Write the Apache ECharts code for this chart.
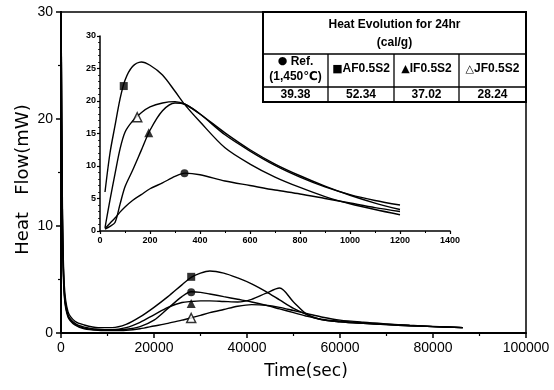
<!DOCTYPE html>
<html>
<head>
<meta charset="utf-8">
<script src="https://cdn.jsdelivr.net/npm/echarts@6/dist/echarts.min.js"></script>
<style>
  html, body { margin: 0; padding: 0; background: #fff; }
  #main { width: 554px; height: 390px; }
</style>
</head>
<body>
<div id="main"></div>
<script>
// 主图 时间(秒)
var mainTime = [0, 300, 700, 1500, 3000, 5000, 8000, 11000, 14000, 17000, 20000, 23000, 26000, 28000, 30000,
  32000, 35000, 38000, 41000, 44000, 47000, 50000, 53000, 56000, 60000, 65000, 70000, 75000, 80000, 86400];
var afMain  = [32, 12, 4.5, 2.0, 1.1, 0.75, 0.5, 0.5, 0.8, 1.5, 2.4, 3.4, 4.5, 5.2, 5.6,
  5.8, 5.6, 5.15, 4.6, 3.9, 3.1, 2.3, 1.7, 1.25, 1.05, 0.9, 0.78, 0.68, 0.6, 0.5];
var refMain = [32, 11, 4.0, 1.7, 0.9, 0.55, 0.35, 0.3, 0.35, 0.6, 1.2, 2.3, 3.4, 3.85, 3.8,
  3.65, 3.4, 3.15, 2.9, 2.6, 2.25, 1.9, 1.55, 1.3, 1.1, 0.95, 0.82, 0.7, 0.6, 0.5];
var ifMain  = [32, 11, 3.8, 1.6, 0.8, 0.45, 0.3, 0.3, 0.5, 1.0, 1.7, 2.4, 2.85, 2.95, 3.0,
  3.0, 2.95, 2.9, 3.15, 3.7, 4.2, 2.9, 1.7, 1.25, 1.05, 0.9, 0.78, 0.68, 0.6, 0.5];
var jfMain  = [32, 10, 3.5, 1.5, 0.75, 0.4, 0.25, 0.22, 0.25, 0.4, 0.65, 0.9, 1.2, 1.4, 1.65,
  1.9, 2.2, 2.5, 2.65, 2.6, 2.4, 2.1, 1.8, 1.5, 1.2, 1.0, 0.85, 0.72, 0.62, 0.5];

// 小图 时间(秒)
var insetTime = [20, 40, 60, 80, 100, 130, 165, 200, 250, 300, 340, 400, 500, 600, 700, 800, 900, 1000, 1100, 1200];
var afInset  = [6.0, 12.0, 16.2, 20.3, 23.2, 25.3, 26.0, 25.5, 24.0, 21.5, 19.4, 16.8, 12.8, 10.3, 8.3, 6.7, 5.3, 4.2, 3.3, 2.5];
var refInset = [0.4, 1.2, 2.0, 2.9, 3.7, 4.7, 5.6, 6.5, 7.4, 8.4, 8.9, 8.65, 7.7, 7.0, 6.3, 5.7, 5.0, 4.3, 3.6, 3.0];
var ifInset  = [0.3, 0.7, 1.3, 4.1, 6.8, 9.3, 12.4, 15.5, 18.5, 19.7, 19.5, 18.0, 15.1, 12.5, 10.3, 8.5, 6.9, 5.5, 4.3, 3.3];
var jfInset  = [0.5, 4.8, 8.8, 12.6, 15.2, 16.9, 18.2, 19.1, 19.7, 19.9, 19.5, 18.0, 14.8, 12.3, 10.1, 8.3, 6.8, 5.6, 4.7, 4.0];

// 标记点
var afMarkMain  = [28000, 5.25];
var refMarkMain = [28000, 3.8];
var ifMarkMain  = [28000, 2.75];
var jfMarkMain  = [28000, 1.4];
var afMarkInset  = [95, 22.3];
var refMarkInset = [338, 8.9];
var ifMarkInset  = [195, 15.1];
var jfMarkInset  = [149, 17.5];

// 表格
var tableTitle = ['Heat Evolution for 24hr', '(cal/g)'];
var tableSymbols = ['●', '■', '▲', '△'];
var tableNames = ['Ref.', 'AF0.5S2', 'IF0.5S2', 'JF0.5S2'];
var tableSub = ['(1,450℃)', '', '', ''];
var tableValues = ['39.38', '52.34', '37.02', '28.24'];

var chart = echarts.init(document.getElementById('main'), null, { renderer: 'canvas' });

function pairs(xs, ys) {
  var out = [];
  for (var i = 0; i < xs.length; i++) out.push([xs[i], ys[i]]);
  return out;
}
function curve(idx, xs, ys) {
  return {
    type: 'line', xAxisIndex: idx, yAxisIndex: idx, data: pairs(xs, ys),
    showSymbol: false, smooth: 0.3, silent: true,
    lineStyle: { color: '#000', width: 1.4 }
  };
}
function mark(idx, pt, symbol, open) {
  return {
    type: 'scatter', xAxisIndex: idx, yAxisIndex: idx, data: [pt], symbol: symbol,
    symbolSize: symbol === 'triangle' ? 9 : 8, silent: true, z: 5,
    itemStyle: open ? { color: '#fff', borderColor: '#000', borderWidth: 1.5 } : { color: '#000' }
  };
}
function plain(v) { return String(v); }

var font = 'Liberation Sans, DejaVu Sans, Noto Sans CJK SC';
var titleFont = 'DejaVu Sans';

// 表格图形
var tx = [263, 328, 394, 459, 526];
var ty = [12, 54, 87, 102];
var cellText = { fontFamily: font, fontWeight: 'bold', fontSize: 12, fill: '#000' };
var tableEls = [
  { type: 'rect', shape: { x: tx[0], y: ty[0], width: tx[4] - tx[0], height: ty[3] - ty[0] },
    style: { fill: '#fff', stroke: '#000', lineWidth: 2 } },
  { type: 'line', shape: { x1: tx[0], y1: ty[1], x2: tx[4], y2: ty[1] }, style: { stroke: '#000', lineWidth: 1.3 } },
  { type: 'line', shape: { x1: tx[0], y1: ty[2], x2: tx[4], y2: ty[2] }, style: { stroke: '#000', lineWidth: 1.3 } },
  { type: 'text', x: (tx[0] + tx[4]) / 2, y: 25,
    style: echarts.util.extend({ text: tableTitle[0], align: 'center', verticalAlign: 'middle' }, cellText) },
  { type: 'text', x: (tx[0] + tx[4]) / 2, y: 43,
    style: echarts.util.extend({ text: tableTitle[1], align: 'center', verticalAlign: 'middle' }, cellText) }
];
for (var c = 1; c < 4; c++) {
  tableEls.push({ type: 'line', shape: { x1: tx[c], y1: ty[1], x2: tx[c], y2: ty[3] }, style: { stroke: '#000', lineWidth: 1.3 } });
}
for (var k = 0; k < 4; k++) {
  var cx = (tx[k] + tx[k + 1]) / 2;
  var sep = k === 0 ? ' ' : '';
  var txt = '{s|' + tableSymbols[k] + '}' + sep + tableNames[k] + (tableSub[k] ? '\n' + tableSub[k] : '');
  tableEls.push({ type: 'text', x: cx, y: 69,
    style: echarts.util.extend({
      text: txt, lineHeight: 15, align: 'center', verticalAlign: 'middle',
      rich: { s: { fontFamily: 'DejaVu Sans', fontSize: 11, fill: '#000', lineHeight: 15 } }
    }, cellText) });
  tableEls.push({ type: 'text', x: cx, y: 94.5,
    style: echarts.util.extend({ text: tableValues[k], align: 'center', verticalAlign: 'middle' }, cellText) });
}

var axisLine = { lineStyle: { color: '#000', width: 2 } };

var option = {
  animation: false,
  backgroundColor: '#fff',
  grid: [
    { left: 61, top: 12, width: 465, height: 321, show: true, borderColor: '#000', borderWidth: 1.5, backgroundColor: 'transparent' },
    { left: 100, top: 36, width: 350, height: 195 }
  ],
  xAxis: [
    {
      gridIndex: 0, type: 'value', min: 0, max: 100000, interval: 20000,
      name: 'Time(sec)', nameLocation: 'middle', nameGap: 30, nameMoveOverlap: false,
      nameTextStyle: { fontFamily: titleFont, fontSize: 17, color: '#000', padding: [0, 0, 0, 25] },
      axisLine: axisLine, splitLine: { show: false },
      axisTick: { length: 5, lineStyle: { color: '#000', width: 1.5 } },
      minorTick: { show: true, splitNumber: 2, length: 3, lineStyle: { color: '#000', width: 1.2 } },
      axisLabel: { fontFamily: font, fontSize: 14, color: '#000', margin: 8, formatter: plain }
    },
    {
      gridIndex: 1, type: 'value', min: 0, max: 1400, interval: 200,
      axisLine: { lineStyle: { color: '#000', width: 1.5 } }, splitLine: { show: false },
      axisTick: { length: 3, lineStyle: { color: '#000', width: 1.2 } },
      minorTick: { show: true, splitNumber: 2, length: 2, lineStyle: { color: '#000', width: 1 } },
      axisLabel: { fontFamily: font, fontWeight: 'bold', fontSize: 9, color: '#000', margin: 5, formatter: plain }
    }
  ],
  yAxis: [
    {
      gridIndex: 0, type: 'value', min: 0, max: 30, interval: 10,
      name: 'Heat   Flow(mW)', nameLocation: 'middle', nameGap: 29, nameMoveOverlap: false,
      nameTextStyle: { fontFamily: titleFont, fontSize: 18, color: '#000', padding: [0, 14, 0, 0] },
      axisLine: axisLine, splitLine: { show: false },
      axisTick: { length: 5, lineStyle: { color: '#000', width: 1.5 } },
      minorTick: { show: true, splitNumber: 2, length: 3, lineStyle: { color: '#000', width: 1.2 } },
      axisLabel: { fontFamily: font, fontSize: 14, color: '#000', margin: 8 }
    },
    {
      gridIndex: 1, type: 'value', min: 0, max: 30, interval: 5,
      axisLine: { show: true, lineStyle: { color: '#000', width: 1.5 } }, splitLine: { show: false },
      axisTick: { show: true, length: 3, lineStyle: { color: '#000', width: 1.2 } },
      minorTick: { show: true, splitNumber: 5, length: 2, lineStyle: { color: '#000', width: 0.8 } },
      axisLabel: { fontFamily: font, fontWeight: 'bold', fontSize: 9, color: '#000', margin: 4 }
    }
  ],
  series: [
    curve(0, mainTime, afMain),
    curve(0, mainTime, refMain),
    curve(0, mainTime, ifMain),
    curve(0, mainTime, jfMain),
    curve(1, insetTime, afInset),
    curve(1, insetTime, refInset),
    curve(1, insetTime, ifInset),
    curve(1, insetTime, jfInset),
    mark(0, afMarkMain, 'rect'),
    mark(0, refMarkMain, 'circle'),
    mark(0, ifMarkMain, 'triangle'),
    mark(0, jfMarkMain, 'triangle', true),
    mark(1, afMarkInset, 'rect'),
    mark(1, refMarkInset, 'circle'),
    mark(1, ifMarkInset, 'triangle'),
    mark(1, jfMarkInset, 'triangle', true)
  ],
  graphic: { elements: [{ type: 'group', z: 100, children: tableEls }] }
};

chart.setOption(option);
</script>
</body>
</html>
